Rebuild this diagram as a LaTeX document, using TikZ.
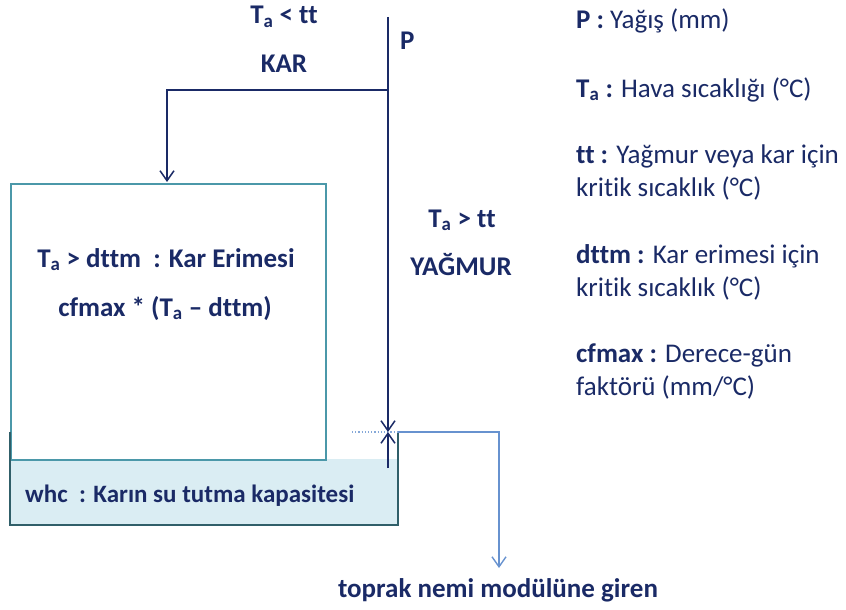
\documentclass[tikz,border=0pt]{standalone}
\usepackage{fontspec}
\setmainfont{Carlito}[Ligatures=NoCommon]
\usepackage{tikz}
\usetikzlibrary{arrows.meta}

\definecolor{navy}{HTML}{1A2A66}
\definecolor{snowteal}{HTML}{4B98A9}
\definecolor{walldark}{HTML}{305F69}
\definecolor{waterfill}{HTML}{DAEDF3}
\definecolor{runoffblue}{HTML}{6792CF}

\begin{document}
\begin{tikzpicture}[
    x=1pt, y=-1pt,
    >={Straight Barb[length=10pt,width=14pt]},
    % Styles for the parts
    flowline/.style={draw=navy, line width=1.5pt},
    snowbox/.style={rectangle, draw=snowteal, line width=2.2pt, minimum width=315pt, minimum height=276pt, anchor=north west, inner sep=0pt},
    bucketwall/.style={draw=walldark, line width=2.2pt},
    runoff/.style={draw=runoffblue, line width=1.4pt},
    label/.style={font=\fontsize{27}{33}\selectfont\bfseries, text=navy, inner sep=0pt},
    legend/.style={font=\fontsize{27}{33}\selectfont, text=navy, inner sep=0pt, anchor=base west, align=left}
]
    \useasboundingbox (0,0) rectangle (846,610);

    % =========================================================================
    % 1. THE SNOW PACK AND THE WATER BUCKET
    % =========================================================================
    % Water held in the snow
    \fill[waterfill] (10,459) rectangle (398,525);

    % Snow pack box
    \node[snowbox] (snow) at (10,183) {};

    % Bucket walls
    \coordinate (wall_left) at (10,432);
    \coordinate (wall_right) at (398,432);
    \draw[bucketwall] (wall_left) -- (10,525) -- (398,525) -- (wall_right);

    % Water level (dotted)
    \coordinate (level_left) at (352,432);
    \draw[runoffblue!80, line width=1.2pt, dotted] (level_left) -- (wall_right);

    % =========================================================================
    % 2. PRECIPITATION: RAIN AND SNOW
    % =========================================================================
    \coordinate (p_top) at (388,17);
    \coordinate (p_split) at (388,90);
    \coordinate (p_level) at (388,432);
    \coordinate (p_low) at (388,468);
    \coordinate (snow_in) at (167,182);

    \draw[flowline] (p_top) -- (p_split);
    \draw[flowline, ->] (p_split) -- (p_level);
    \draw[flowline, ->] (p_split) -| (snow_in);
    \draw[flowline, ->] (p_low) -- (p_level);

    % =========================================================================
    % 3. RUNOFF TO THE SOIL
    % =========================================================================
    \coordinate (runoff_end) at (499,568);
    \draw[runoff, ->] (wall_right) -| (runoff_end);

    % =========================================================================
    % 4. LABELS
    % =========================================================================
    \node[label, anchor=base] (cond_snow) at (284,24) {T\textsubscript{a} < tt};
    \node[label, anchor=base] (kar) at (284,73) {KAR};
    \node[label, anchor=base west] (p_lbl) at (400,50) {P};
    \node[label, anchor=base] (cond_rain) at (462,227) {T\textsubscript{a} > tt};
    \node[label, anchor=base] (rain) at (461,275) {YAĞMUR};

    \node[label, anchor=base] (melt) at (166,267) {T\textsubscript{a} > dttm\ \ : Kar Erimesi};
    \node[label, anchor=base] (melt_eq) at (165,316) {cfmax * (T\textsubscript{a} – dttm)};
    \node[label, font=\fontsize{25}{30}\selectfont\bfseries, anchor=base west] (whc) at (25,502) {whc\ \ : Karın su tutma kapasitesi};
    \node[label, anchor=base] (soil) at (498,597) {toprak nemi modülüne\ giren};

    % =========================================================================
    % 5. LEGEND
    % =========================================================================
    \node[legend] (leg_p) at (576,29) {\textbf{P :} Yağış (mm)};
    \node[legend] (leg_ta) at (576,97) {\textbf{T\textsubscript{a} :} Hava sıcaklığı (°C)};
    \node[legend] (leg_tt) at (576,196) {\textbf{tt :} Yağmur veya kar için\\kritik sıcaklık (°C)};
    \node[legend] (leg_dttm) at (576,296) {\textbf{dttm :} Kar erimesi için\\kritik sıcaklık (°C)};
    \node[legend] (leg_cf) at (576,395) {\textbf{cfmax :} Derece-gün\\faktörü (mm/°C)};

\end{tikzpicture}
\end{document}
